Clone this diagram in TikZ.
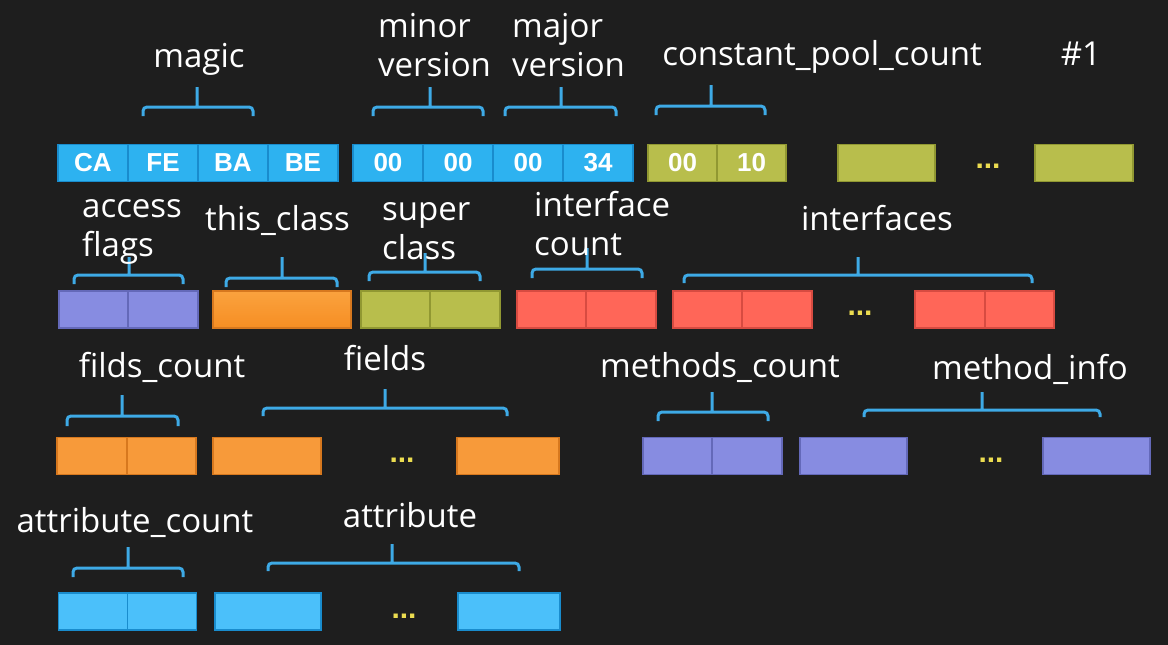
\documentclass[tikz,border=0pt]{standalone}
\usepackage{fontspec}
\setmainfont{Open Sans}
\newfontfamily\cellfont{Liberation Sans}
\usetikzlibrary{positioning}
\definecolor{board}{RGB}{30,30,30}
\definecolor{cblue}{RGB}{45,178,240}
\definecolor{cblueline}{RGB}{25,140,205}
\definecolor{cbluelight}{RGB}{75,192,250}
\definecolor{cgreen}{RGB}{184,190,76}
\definecolor{cgreenline}{RGB}{145,152,50}
\definecolor{cpurple}{RGB}{135,140,225}
\definecolor{cpurpleline}{RGB}{100,105,185}
\definecolor{corange}{RGB}{247,154,58}
\definecolor{corangetop}{RGB}{250,162,62}
\definecolor{corangebot}{RGB}{246,142,35}
\definecolor{corangeline}{RGB}{215,120,30}
\definecolor{cred}{RGB}{255,102,88}
\definecolor{credline}{RGB}{215,75,65}
\definecolor{bracec}{RGB}{62,170,230}
\definecolor{dotc}{RGB}{235,220,80}
% bracket: left, right, bar y, end y, stem x, stem top
\newcommand{\grp}[6]{\draw[brk] (#1,#4) -- (#1,#3) -- (#2,#3) -- (#2,#4) (#5,#3) -- (#5,#6);}

\begin{document}
\begin{tikzpicture}[x=1pt,y=-1pt,
  lbl/.style={text=white,inner sep=0pt,font=\fontsize{33}{39}\selectfont},
  cell/.style={minimum width=70pt,minimum height=37pt,inner sep=0pt,outer sep=0pt,
    line width=1.6pt,text=white,font=\cellfont\bfseries\fontsize{26}{28}\selectfont},
  bluecell/.style={cell,fill=cblue,draw=cblueline},
  lightcell/.style={cell,fill=cbluelight,draw=cblueline},
  greencell/.style={cell,fill=cgreen,draw=cgreenline},
  purplecell/.style={cell,fill=cpurple,draw=cpurpleline},
  orangecell/.style={cell,fill=corange,draw=corangeline},
  redcell/.style={cell,fill=cred,draw=credline},
  dots/.style={text=dotc,inner sep=0pt,font=\cellfont\bfseries\fontsize{30}{30}\selectfont},
  brk/.style={draw=bracec,line width=3pt,rounded corners=4pt}]

\useasboundingbox[fill=board] (0,0) rectangle (1168,645);

% row 1
\node[bluecell] (ca) at (93,163) {CA};
\node[bluecell] (fe) [right=0pt of ca] {FE};
\node[bluecell] (ba) [right=0pt of fe] {BA};
\node[bluecell] (be) [right=0pt of ba] {BE};
\node[bluecell] (mn1) at (388,163) {00};
\node[bluecell] (mn2) [right=0pt of mn1] {00};
\node[bluecell] (mj1) [right=0pt of mn2] {00};
\node[bluecell] (mj2) [right=0pt of mj1] {34};
\node[greencell,minimum width=69pt] (cp1) at (682.5,163) {00};
\node[greencell,minimum width=69pt] (cp2) [right=0pt of cp1] {10};
\node[greencell,minimum width=97pt] (pa) at (886.5,163) {};
\node[dots] (d1) at (988,166) {...};
\node[greencell,minimum width=98pt] (pz) at (1084,163) {};

\node[lbl,anchor=base] (magic) at (199,67) {magic};
\node[lbl,align=left,anchor=base west] (minor) at (378,76) {minor\\version};
\node[lbl,align=left,anchor=base west] (major) at (512,76) {major\\version};
\node[lbl,anchor=base] (cpc) at (822,65) {constant\_pool\_count};
\node[lbl,anchor=base] (num) at (1081,65) {\#1};

\grp{143}{253}{107}{116}{197}{87}
\grp{373}{483}{107}{116}{430}{87}
\grp{505}{616}{107}{116}{561}{87}
\grp{656}{765}{106}{115}{711}{85}

% row 2
\node[purplecell,minimum width=69.5pt] (af1) at (93.5,309.5) {};
\node[purplecell,minimum width=69.5pt] (af2) [right=0pt of af1] {};
\node[orangecell,minimum width=138pt,top color=corangetop,bottom color=corangebot] (tc) at (282,309.5) {};
\node[greencell,minimum width=69.5pt] (sc1) at (395.5,309.5) {};
\node[greencell,minimum width=69.5pt] (sc2) [right=0pt of sc1] {};
\node[redcell,minimum width=69.5pt] (ic1) at (551.5,309.5) {};
\node[redcell,minimum width=69.5pt] (ic2) [right=0pt of ic1] {};
\node[redcell,minimum width=69.5pt] (ia1) at (707.5,309.5) {};
\node[redcell,minimum width=69.5pt] (ia2) [right=0pt of ia1] {};
\node[dots] (d2) at (860,313) {...};
\node[redcell,minimum width=69.5pt] (iz1) at (950,309.5) {};
\node[redcell,minimum width=69.5pt] (iz2) [right=0pt of iz1] {};

\grp{74}{183}{275}{284}{129}{257}
\grp{226}{337}{278}{287}{282}{257}
\grp{369}{480}{272}{281}{425}{253}
\grp{532}{642}{269}{278}{587}{248}
\grp{684}{1032}{275}{283}{858}{257}

\node[lbl,align=left,anchor=base west] (acc) at (82,256) {access\\flags};
\node[lbl,anchor=base west] (this) at (205,230) {this\_class};
\node[lbl,align=left,anchor=base west] (sup) at (382,259) {super\\class};
\node[lbl,align=left,anchor=base west] (icnt) at (534,255) {interface\\count};
\node[lbl,anchor=base] (ifs) at (877,230) {interfaces};

% row 3
\node[orangecell,minimum width=69.5pt] (fc1) at (92,456) {};
\node[orangecell,minimum width=69.5pt] (fc2) [right=0pt of fc1] {};
\node[orangecell,minimum width=108pt] (fa) at (267,456) {};
\node[dots] (d3) at (402,460) {...};
\node[orangecell,minimum width=102pt] (fz) at (508,456) {};
\node[purplecell,minimum width=69.5pt] (mc1) at (677.5,456) {};
\node[purplecell,minimum width=69.5pt] (mc2) [right=0pt of mc1] {};
\node[purplecell,minimum width=107pt] (ma) at (853.5,456) {};
\node[dots] (d4) at (991,460) {...};
\node[purplecell,minimum width=107pt] (mz) at (1096.5,456) {};

\grp{67}{178}{416}{426}{122}{395}
\grp{263}{507}{408}{416}{385}{389}
\grp{658}{768}{412}{421}{712}{392}
\grp{864}{1100}{410}{417}{982}{392}

\node[lbl,anchor=base] (fcnt) at (162,377) {filds\_count};
\node[lbl,anchor=base] (flds) at (385,370) {fields};
\node[lbl,anchor=base] (mcnt) at (720,377) {methods\_count};
\node[lbl,anchor=base] (minf) at (1030,379) {method\_info};

% row 4
\node[lightcell,minimum width=69pt] (ac1) at (93,611.5) {};
\node[lightcell,minimum width=69pt] (ac2) [right=0pt of ac1] {};
\node[lightcell,minimum width=106pt] (aa) at (268,611.5) {};
\node[dots] (d5) at (404,616) {...};
\node[lightcell,minimum width=102pt] (az) at (509,611.5) {};

\grp{73}{183}{568}{577}{128}{547}
\grp{268}{519}{563}{571}{392}{544}

\node[lbl,anchor=base] (acnt) at (135,532) {attribute\_count};
\node[lbl,anchor=base] (attr) at (410,527) {attribute};

\end{tikzpicture}
\end{document}
